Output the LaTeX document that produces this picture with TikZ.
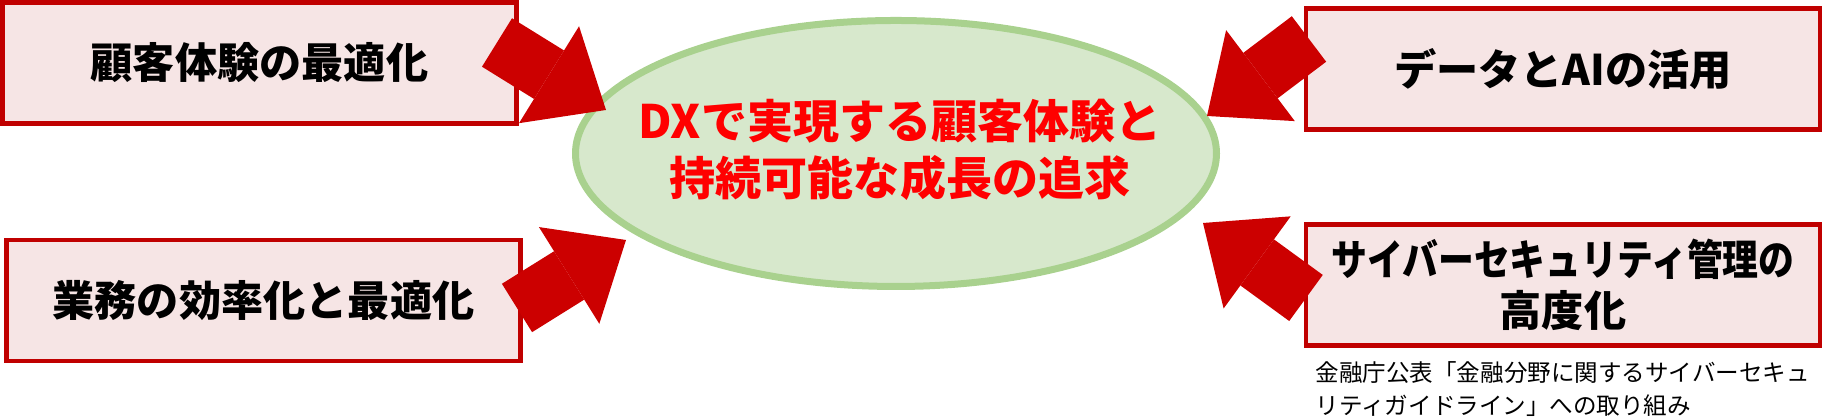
\documentclass[tikz,border=0pt]{standalone}
\usepackage{fontspec}
\setmainfont{Noto Sans CJK JP}
\newfontfamily\narrowjp[FakeStretch=0.85]{Noto Sans CJK JP}
\usepackage{xcolor}
\usepackage{tikz}
\usetikzlibrary{shapes.geometric}
\usetikzlibrary{arrows.meta}

\definecolor{boxred}{HTML}{C00000}
\definecolor{boxpink}{HTML}{F6E5E5}
\definecolor{arrowred}{HTML}{CC0000}
\definecolor{goalgreen}{HTML}{D7E8CC}
\definecolor{goalline}{HTML}{A9D18E}

\begin{document}
\begin{tikzpicture}[
        topic/.style = {draw = boxred, fill = boxpink, line width = 0.045cm,
            minimum width = 5.14cm, minimum height = 1.21cm, inner sep = 0pt,
            align = center, font = \fontsize{12pt}{14.5pt}\selectfont\bfseries},
        push/.style = {arrowred, line width = 0.57cm,
            -{Triangle[width = 1.14cm, length = 0.67cm, line width = 0pt]}}
    ]
        \useasboundingbox (0, 0) rectangle (18.23, 4.17);

        \node[ellipse, draw = goalline, fill = goalgreen, line width = 0.07cm,
            minimum width = 6.41cm, minimum height = 2.66cm, inner sep = 0pt] (goal) at (8.96, 2.635) {};
        \node[text = red, align = center, font = \fontsize{13.1pt}{16.2pt}\selectfont\bfseries]
            (goaltext) at (9.0, 2.675) {DXで実現する顧客体験と\\持続可能な成長の追求};

        \node[topic] (cx) at (2.595, 3.54) {顧客体験の最適化};
        \node[topic] (ops) at (2.635, 1.165) {業務の効率化と最適化};
        \node[topic] (data) at (15.63, 3.48) {データとAIの活用};
        \node[topic] (sec) at (15.63, 1.32) {{\narrowjp サイバーセキュリティ管理の}\\高度化};

        \node[anchor = north west, align = left, inner sep = 0pt, font = \fontsize{6.7pt}{9.4pt}\selectfont]
            (secnote) at (13.15, 0.56) {金融庁公表「金融分野に関するサイバーセキュ\\リティガイドライン」への取り組み};

        % big arrows into the goal
        \coordinate (cxtail) at (4.97, 3.745);
        \coordinate (cxtip) at (6.06, 3.07);
        \coordinate (opstail) at (5.17, 1.09);
        \coordinate (opstip) at (6.26, 1.77);
        \coordinate (datatail) at (13.09, 3.78);
        \coordinate (datatip) at (12.07, 3.01);
        \coordinate (sectail) at (13.06, 1.19);
        \coordinate (sectip) at (12.03, 1.94);

        \draw[push] (cxtail) -- (cxtip);
        \draw[push] (opstail) -- (opstip);
        \draw[push] (datatail) -- (datatip);
        \draw[push] (sectail) -- (sectip);
    \end{tikzpicture}
\end{document}
